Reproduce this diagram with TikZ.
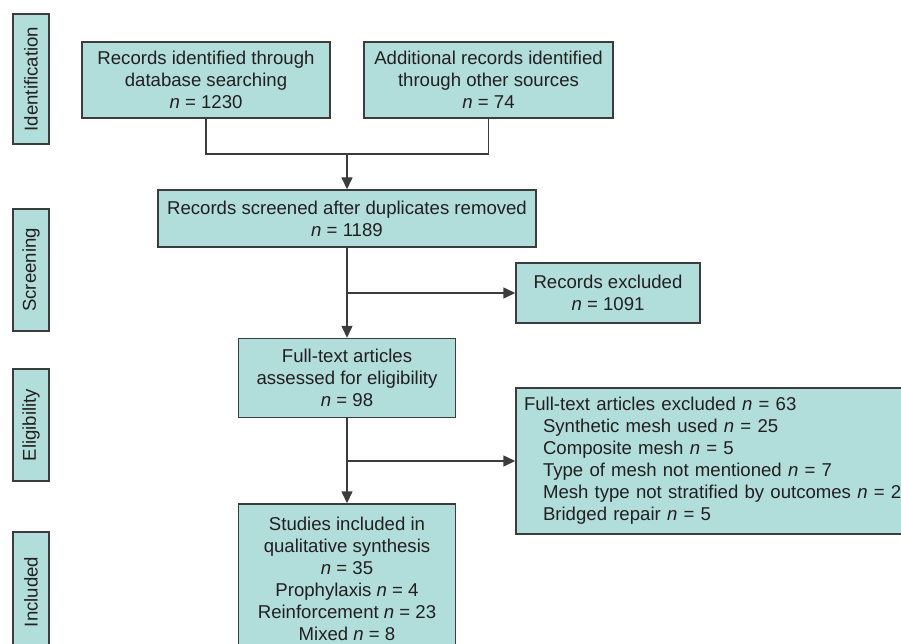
\documentclass[tikz,border=0pt]{standalone}
\usepackage{fontspec}
\setmainfont{Liberation Sans}
\usetikzlibrary{arrows.meta}
\definecolor{boxfill}{RGB}{177,222,218}
\definecolor{boxline}{RGB}{60,60,60}
\definecolor{inkgray}{RGB}{35,31,32}

\begin{document}
\begin{tikzpicture}
[%%%%%%%%%%%%%%%%%%%%%%%%%%%%%%
x=1pt,y=-1pt,
box/.style={rectangle,draw=boxline,fill=boxfill,line width=1.4pt,inner sep=0pt,
  align=center,text=inkgray,font=\fontsize{18.6}{22}\selectfont},
stage/.style={box,rotate=90,minimum height=36},
link/.style={draw=boxline,line width=1.4pt},
arrow/.style={link,-{Triangle[length=12pt,width=11pt]}},
]%%%%%%%%%%%%%%%%%%%%%%%%%%%%%%
\useasboundingbox (0,0) rectangle (901,644);
\clip (0,0) rectangle (901,644);

\foreach \i/\y/\h/\txt in {1/79/130/Identification,2/270/122/Screening,
  3/425/112/Eligibility,4/592/120/Included}
\node[stage,minimum width=\h] (stage\i) at (31,\y){\txt};

\node[box,minimum width=248,minimum height=76] (dbrec) at (206,80)
  {Records identified through\\database searching\\\textit{n} = 1230};
\node[box,minimum width=249,minimum height=76] (otherrec) at (488.5,80)
  {Additional records identified\\through other sources\\\textit{n} = 74};
\node[box,minimum width=378,minimum height=57] (screened) at (347,218.5)
  {Records screened after duplicates removed\\\textit{n} = 1189};
\node[box,minimum width=184,minimum height=60] (recexcl) at (608,293)
  {Records excluded\\\textit{n} = 1091};
\node[box,minimum width=217,minimum height=79] (assessed) at (347,378)
  {Full-text articles\\assessed for eligibility\\\textit{n} = 98};
\node[box,align=left,text width=398,inner xsep=8,minimum height=146] (ftexcl) at (723,461)
  {Full-text articles excluded \textit{n} = 63\\
   \hspace*{19pt}Synthetic mesh used \textit{n} = 25\\
   \hspace*{19pt}Composite mesh \textit{n} = 5\\
   \hspace*{19pt}Type of mesh not mentioned \textit{n} = 7\\
   \hspace*{19pt}Mesh type not stratified by outcomes \textit{n} = 21\\
   \hspace*{19pt}Bridged repair \textit{n} = 5};
\node[box,minimum width=217,minimum height=150] (included) at (347,579)
  {Studies included in\\qualitative synthesis\\\textit{n} = 35\\Prophylaxis \textit{n} = 4\\
   Reinforcement \textit{n} = 23\\Mixed \textit{n} = 8};

\coordinate (join) at (347,154);
\coordinate (split1) at (347,293);
\coordinate (split2) at (347,461);

\draw[link] (dbrec.south) |- (join);
\draw[link] (otherrec.south) |- (join);
\draw[arrow] (join) -- (screened.north);
\draw[arrow] (screened.south) -- (assessed.north);
\draw[arrow] (split1) -- (recexcl.west);
\draw[arrow] (assessed.south) -- (included.north);
\draw[arrow] (split2) -- (ftexcl.west);
\end{tikzpicture}
\end{document}
